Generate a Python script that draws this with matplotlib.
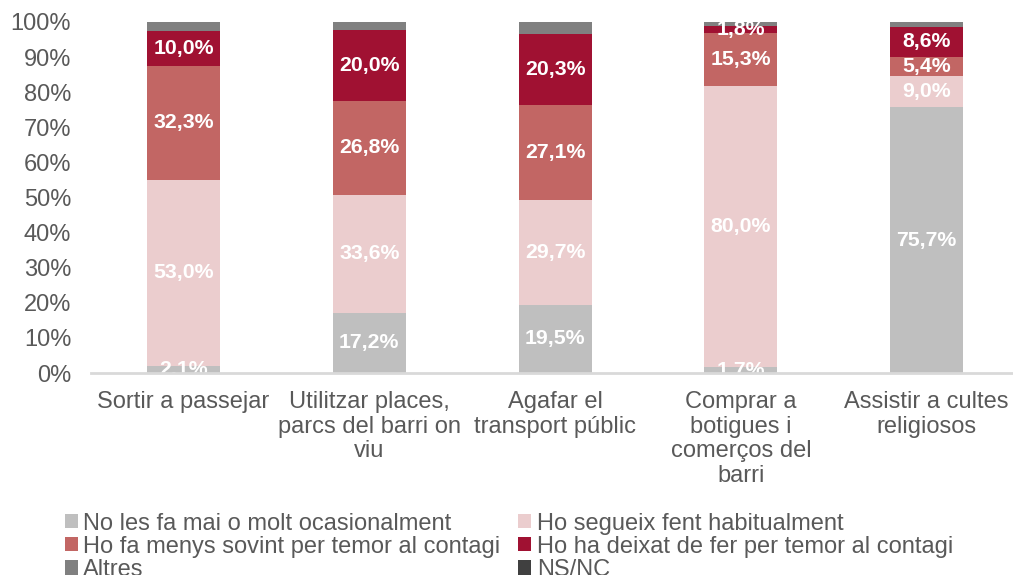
import matplotlib
matplotlib.use("Agg")
import matplotlib.pyplot as plt
import numpy as np
from matplotlib.patches import Patch

categories = ["Sortir a passejar",
              "Utilitzar places,\nparcs del barri on\nviu",
              "Agafar el\ntransport públic",
              "Comprar a\nbotigues i\ncomerços del\nbarri",
              "Assistir a cultes\nreligiosos"]
series_names = ["No les fa mai o molt ocasionalment",
                "Ho segueix fent habitualment",
                "Ho fa menys sovint per temor al contagi",
                "Ho ha deixat de fer per temor al contagi",
                "Altres",
                "NS/NC"]
no_les = [2.1, 17.2, 19.5, 1.7, 75.7]
segueix = [53.0, 33.6, 29.7, 80.0, 9.0]
menys = [32.3, 26.8, 27.1, 15.3, 5.4]
deixat = [10.0, 20.0, 20.3, 1.8, 8.6]
altres = [2.6, 2.4, 3.4, 1.2, 1.3]
nsnc = [0.0, 0.0, 0.0, 0.0, 0.0]
yticks = list(range(0, 101, 10))

colors = ["#BFBFBF", "#EBCDCE", "#C26664", "#A01132", "#808080", "#404040"]
show_label = [True, True, True, True, False, False]

plt.rcParams['font.family'] = ['Liberation Sans', 'DejaVu Sans']
fig = plt.figure(figsize=(10.13, 5.75), dpi=100)
ax = fig.add_axes([90.6/1013, (575-373)/575, 929/1013, (373-22)/575])

series = [no_les, segueix, menys, deixat, altres, nsnc]
x = np.arange(len(categories))
bottom = np.zeros(len(categories))
for vals, col, name, lab in zip(series, colors, series_names, show_label):
    vals = np.array(vals)
    ax.bar(x, vals, 0.393, bottom=bottom, color=col, label=name, zorder=2)
    if lab:
        for xi, b, v in zip(x, bottom, vals):
            if v > 0:
                ax.text(xi, b + v / 2, f"{v:.1f}%".replace(".", ","),
                        ha="center", va="center", color="white",
                        fontsize=15.3, fontweight="bold", zorder=3)
    bottom += vals

ax.set_xlim(-0.5, len(categories) - 0.5)
ax.set_ylim(0, 100)
ax.set_yticks(yticks)
ax.set_yticklabels([f"{t}%" for t in yticks])
ax.set_xticks(x)
ax.set_xticklabels(categories, linespacing=1.15)
ax.tick_params(axis="both", length=0, labelsize=17, colors="#595959")
ax.tick_params(axis="x", pad=13)
ax.tick_params(axis="y", pad=14)
for s in ["top", "right", "left"]:
    ax.spines[s].set_visible(False)
ax.spines["bottom"].set_color("#D9D9D9")
ax.spines["bottom"].set_linewidth(2)
ax.spines["bottom"].set_zorder(4)

order = [0, 2, 4, 1, 3, 5]
handles = [Patch(facecolor=colors[i], edgecolor="none") for i in order]
labels = [series_names[i] for i in order]
leg = fig.legend(handles, labels, ncol=2, loc="upper left",
                 bbox_to_anchor=(48/1013, 1 - 496/575),
                 frameon=False, fontsize=17,
                 handlelength=0.55, handleheight=0.55, handletextpad=0.25,
                 columnspacing=0.75, labelspacing=0.05, borderpad=0.2)
for t in leg.get_texts():
    t.set_color("#595959")

fig.savefig("out.png", dpi=100)
